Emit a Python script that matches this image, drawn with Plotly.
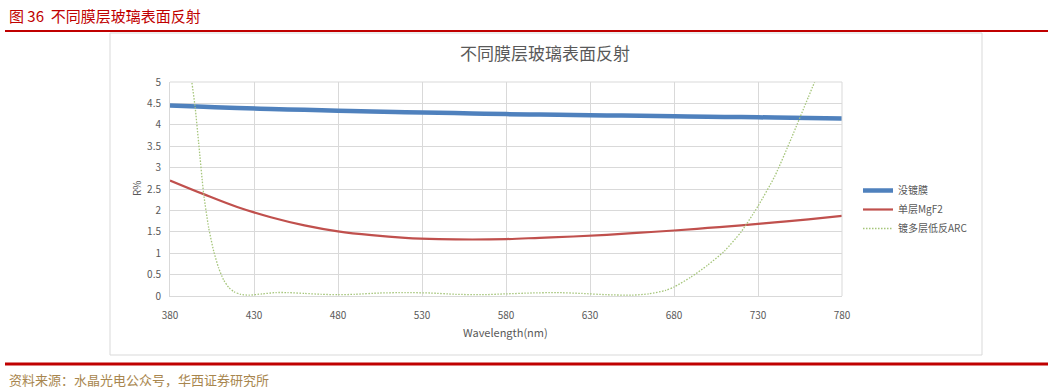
import plotly.graph_objects as go

# ---- data ----
wl_main = [380, 400, 420, 440, 460, 480, 500, 520, 540, 560, 580, 600, 620, 640, 660, 680, 700, 720, 740, 760, 780]
uncoated = [4.45, 4.42, 4.39, 4.37, 4.35, 4.33, 4.31, 4.295, 4.28, 4.265, 4.25, 4.24, 4.23, 4.22, 4.21, 4.20, 4.19, 4.18, 4.17, 4.16, 4.15]
mgf2 = [2.70, 2.38, 2.08, 1.84, 1.65, 1.51, 1.42, 1.36, 1.33, 1.32, 1.33, 1.36, 1.39, 1.43, 1.48, 1.53, 1.59, 1.65, 1.72, 1.79, 1.87]
wl_arc = [380, 385, 390, 393, 395, 397, 400, 403, 406, 409, 412, 415, 418, 422, 427, 435, 443, 450, 460, 470, 480, 490,
          505, 520, 535, 550, 565, 580, 595, 610, 625, 640, 655, 665, 675, 680, 690, 700, 710, 720, 730, 740, 750, 760, 770, 780]
arc = [9.5, 7.6, 5.9, 5.0, 4.4, 3.6, 2.4, 1.6, 1.05, 0.65, 0.37, 0.2, 0.1, 0.04, 0.02, 0.05, 0.08, 0.08, 0.06, 0.04, 0.03, 0.04,
       0.07, 0.08, 0.07, 0.04, 0.03, 0.05, 0.07, 0.08, 0.06, 0.03, 0.02, 0.05, 0.13, 0.21, 0.44, 0.72, 1.05, 1.5, 2.1, 2.8, 3.7, 4.65, 5.6, 6.6]
names = ["没镀膜", "单层MgF2", "镀多层低反ARC"]
x_ticks = [380, 430, 480, 530, 580, 630, 680, 730, 780]
y_ticks = [0, 0.5, 1, 1.5, 2, 2.5, 3, 3.5, 4, 4.5, 5]

W, H = 1053, 392
L, R, T, B = 170, 842, 82, 296


def px(x):
    return (x - L) / (R - L)


def py(y):
    return (B - y) / (B - T)


FONT = "Noto Sans CJK SC"
GRAY = "#595959"

fig = go.Figure()
fig.add_trace(go.Scatter(x=wl_main, y=uncoated, name=names[0], mode="lines",
                         line=dict(color="#4f81bd", width=4.5, shape="spline")))
fig.add_trace(go.Scatter(x=wl_main, y=mgf2, name=names[1], mode="lines",
                         line=dict(color="#c0504d", width=2.2, shape="spline")))
fig.add_trace(go.Scatter(x=wl_arc, y=arc, name=names[2], mode="lines",
                         line=dict(color="#a5c57a", width=1.3, dash="1.5px,1.5px", shape="spline", smoothing=0.6)))

fig.update_layout(
    width=W, height=H,
    margin=dict(l=L, r=W - R, t=T, b=H - B),
    paper_bgcolor="white", plot_bgcolor="white",
    font=dict(family=FONT, color=GRAY, size=10),
    showlegend=True,
    legend=dict(x=px(858), y=py(176), xanchor="left", yanchor="top",
                font=dict(size=10, color=GRAY, family=FONT),
                tracegroupgap=0, itemwidth=30, bgcolor="rgba(0,0,0,0)"),
    xaxis=dict(range=[380, 780], tickvals=x_ticks, showgrid=True, gridcolor="#d9d9d9", gridwidth=1,
               zeroline=False, showline=True, linecolor="#d9d9d9", ticks="",
               ticklabelstandoff=10,
               tickfont=dict(size=10, color=GRAY), mirror=False),
    yaxis=dict(range=[0, 5], tickvals=y_ticks, ticktext=[str(v) for v in y_ticks],
               showgrid=True, gridcolor="#d9d9d9", gridwidth=1,
               zeroline=False, showline=True, linecolor="#d9d9d9", ticks="",
               ticklabelstandoff=6,
               tickfont=dict(size=10, color=GRAY)),
)

shapes = [
    dict(type="line", xref="paper", yref="paper", x0=px(5), x1=px(1048), y0=py(31), y1=py(31),
         line=dict(color="#c00000", width=2)),
    dict(type="rect", xref="paper", yref="paper", x0=px(110), x1=px(982), y0=py(33), y1=py(355),
         line=dict(color="#d9d9d9", width=1)),
    dict(type="line", xref="paper", yref="paper", x0=px(5), x1=px(1048), y0=py(364), y1=py(364),
         line=dict(color="#c00000", width=3)),
    dict(type="line", xref="paper", yref="paper", x0=1, x1=1, y0=0, y1=1,
         line=dict(color="#d9d9d9", width=1)),
    dict(type="line", xref="paper", yref="paper", x0=0, x1=1, y0=1, y1=1,
         line=dict(color="#d9d9d9", width=1)),
]
fig.update_layout(shapes=shapes)

annotations = [
    dict(text="图 36  不同膜层玻璃表面反射", x=px(7), y=py(15), xref="paper", yref="paper",
         xanchor="left", yanchor="middle", showarrow=False,
         font=dict(family=FONT, size=15, color="#c00000")),
    dict(text="不同膜层玻璃表面反射", x=px(545), y=py(52), xref="paper", yref="paper",
         xanchor="center", yanchor="middle", showarrow=False,
         font=dict(family=FONT, size=17, color=GRAY)),
    dict(text="Wavelength(nm)", x=px(505), y=py(332), xref="paper", yref="paper",
         xanchor="center", yanchor="middle", showarrow=False,
         font=dict(family=FONT, size=11, color=GRAY)),
    dict(text="R%", x=px(136), y=py(188), xref="paper", yref="paper", textangle=-90,
         xanchor="center", yanchor="middle", showarrow=False,
         font=dict(family=FONT, size=10, color=GRAY)),
    dict(text="资料来源：水晶光电公众号，华西证券研究所", x=px(7), y=py(379), xref="paper", yref="paper",
         xanchor="left", yanchor="middle", showarrow=False,
         font=dict(family=FONT, size=13, color="#a8864e")),
]
fig.update_layout(annotations=annotations)

fig.write_html("out.html")
